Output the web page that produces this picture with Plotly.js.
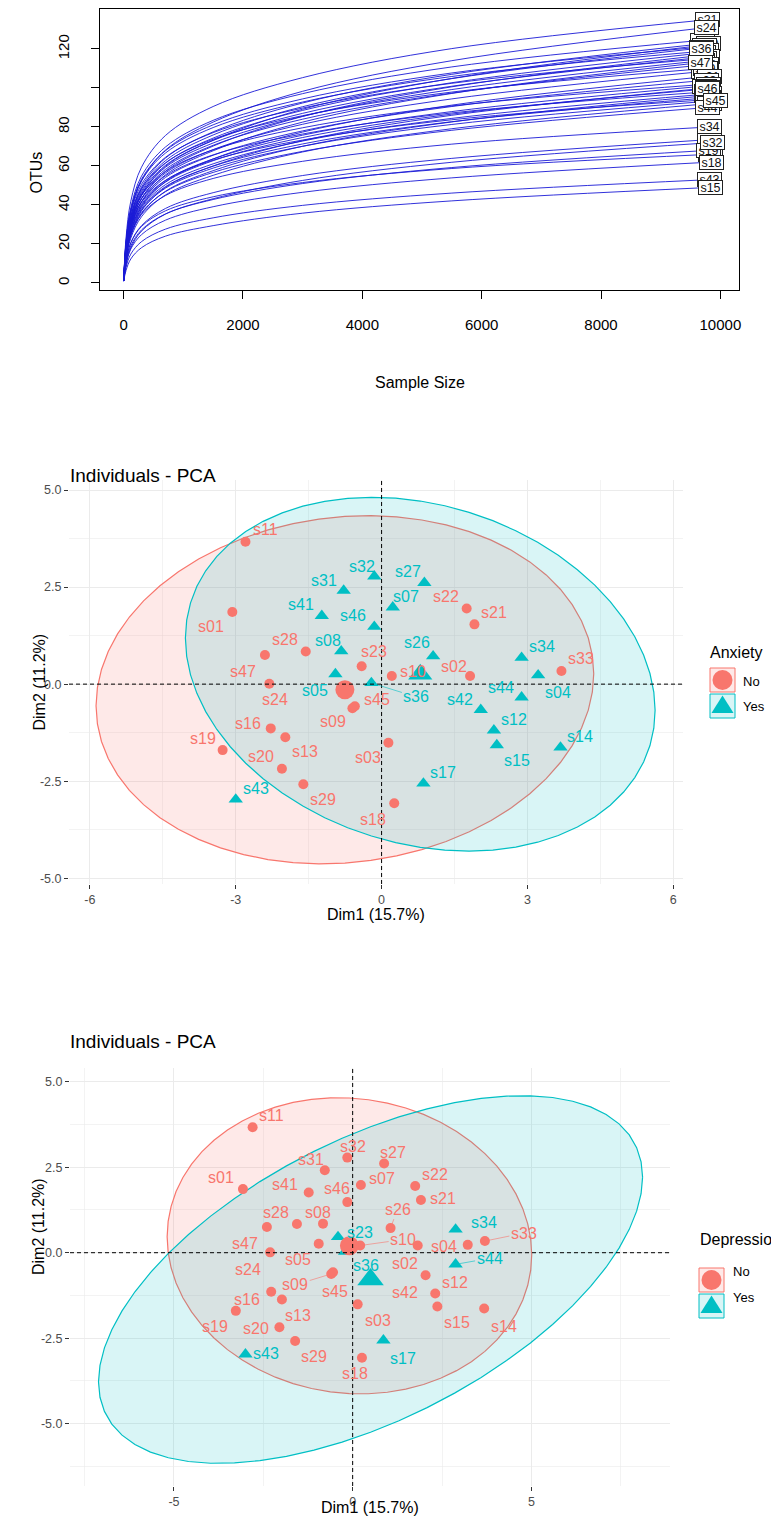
<!DOCTYPE html>
<html><head><meta charset="utf-8">
<script src="https://cdn.plot.ly/plotly-3.0.1.min.js"></script>
<style>html,body{margin:0;padding:0;background:#fff}#chart{width:771px;height:1533px}</style>
</head><body><div id="chart"></div>
<script>
// ---------------- Rarefaction curves (top panel) ----------------
const rareSamples = ['s21','s10','s22','s23','s20','s12','s02','s27','s26','s11','s05','s07','s28','s09','s01','s03','s33','s41','s16','s08','s04','s13','s29','s17','s42','s44','s31','s14','s43','s19',
                     's24','s36','s47','s46','s45','s34','s32','s18','s15'];
const rareDepthSteps = [1, 40, 120, 300, 700, 1500, 3000, 5500];
const rareEndDepth = [9780,9700,9760,9720,9800,9740,9690,9760,9710,9790,9730,9700,9770,9750,9810,9760,9800,9740,9790,9770,9820,9760,9800,9780,9820,9790,9810,9840,9820,9800,
                      9770,9680,9665,9780,9915,9815,9866,9850,9830];
const rareOTUs = [
 [1,23.0,41.9,59.4,75.6,90.5,105.3,120.2,135],
 [1,21.2,38.6,54.8,69.7,83.4,97.1,110.8,124.5],
 [1,15.2,29.3,43.3,57.3,70.2,85.4,100.6,117],
 [1,16.3,30.4,43.4,56.4,68.4,81.4,94.4,108.5],
 [1,18.5,34.4,49.2,64.0,77.5,92.3,107.0,123],
 [1,15.9,30.5,45.1,59.8,73.2,89.1,104.9,122],
 [1,20.6,37.5,53.2,67.8,81.1,94.4,107.7,121],
 [1,20.2,36.9,52.4,66.6,79.7,92.8,105.9,119],
 [1,17.7,33.0,47.2,61.4,74.3,88.5,102.7,118],
 [1,17.4,32.5,46.4,60.3,73.1,87.0,100.9,116],
 [1,19.6,35.7,50.6,64.4,77.1,89.7,102.4,115],
 [1,17.1,31.9,45.6,59.3,71.8,85.5,99.2,114],
 [1,16.8,31.4,44.8,58.2,70.6,84.0,97.4,112],
 [1,18.7,34.1,48.4,61.6,73.7,85.8,97.9,110],
 [1,13.8,26.5,39.2,51.9,63.6,77.4,91.2,106],
 [1,15.6,29.1,41.6,54.1,65.5,78.0,90.5,104],
 [1,17.3,31.6,44.9,57.1,68.3,79.6,90.8,102],
 [1,15.2,28.3,40.4,52.5,63.6,75.8,87.9,101],
 [1,13.0,25.0,37.0,49.0,60.0,73.0,86.0,100],
 [1,16.7,30.4,43.1,54.9,65.7,76.4,87.2,98],
 [1,14.6,27.2,38.8,50.4,61.1,72.8,84.4,97],
 [1,12.5,24.0,35.5,47.0,57.6,70.1,82.6,96],
 [1,14.3,26.6,38.0,49.4,59.9,71.3,82.7,95],
 [1,16.0,29.1,41.4,52.6,63.0,73.3,83.7,94],
 [1,12.0,23.0,34.0,45.1,55.2,67.2,79.1,92],
 [1,13.5,25.2,36.0,46.8,56.7,67.5,78.3,90],
 [1,11.0,20.6,29.4,38.2,46.3,55.1,63.9,73.5],
 [1,11.2,20.5,29.0,37.0,44.2,51.5,58.7,66],
 [1,8.0,14.8,21.2,27.6,33.4,39.8,46.1,53],
 [1,10.2,19.0,27.2,35.4,42.8,51.0,59.2,68],
 [1,19.7,36.7,52.4,68.1,82.5,98.3,114.0,131],
 [1,18.1,33.7,48.2,62.7,75.9,90.4,104.8,120.5],
 [1,14.7,28.3,41.8,55.4,67.8,82.5,97.2,113],
 [1,14.9,27.9,39.8,51.7,62.7,74.6,86.6,99.5],
 [1,14.0,26.2,37.4,48.6,58.9,70.1,81.3,93.5],
 [1,13.6,24.8,35.2,44.8,53.6,62.4,71.2,80],
 [1,9.4,18.0,26.6,35.3,43.2,52.6,61.9,72],
 [1,9.3,17.4,24.8,32.2,39.1,46.5,53.9,62],
 [1,6.4,12.3,18.1,24.0,29.4,35.8,42.1,49]
];
const rareXTicks = [0,2000,4000,6000,8000,10000];
const rareXTickText = ['0','2000','4000','6000','8000','10000'];
const rareYTicks = [0,20,40,60,80,100,120];
const rareYTickText = ['0','20','40','60','80','','120'];

// ---------------- PCA individuals ----------------
const pcaSamples = ['s01','s02','s03','s04','s05','s07','s08','s09','s10','s11','s12','s13','s14','s15','s16','s17','s18','s19','s20','s21',
                    's22','s23','s24','s26','s27','s28','s29','s31','s32','s33','s34','s36','s41','s42','s43','s44','s45','s46','s47'];
const dim1 = [-3.07,1.82,0.14,3.22,-0.95,0.23,-0.83,-0.60,0.21,-2.80,2.31,-1.98,3.68,2.37,-2.28,0.86,0.26,-3.27,-2.05,1.91,
              1.75,-0.41,-2.31,1.06,0.88,-1.56,-1.61,-0.78,-0.15,3.70,2.88,-0.21,-1.23,2.04,-3.00,2.88,-0.55,-0.15,-2.40];
const dim2 = [1.86,0.21,-1.51,0.23,0.26,1.98,0.85,-0.62,0.21,3.67,-1.19,-1.37,-1.63,-1.57,-1.14,-2.56,-3.07,-1.70,-2.18,1.54,
              1.95,0.46,0.01,0.72,2.61,0.84,-2.58,2.41,2.78,0.34,0.68,0.03,1.76,-0.66,-2.97,-0.34,-0.57,1.48,0.75];
const anxiety = ['No','No','No','Yes','Yes','Yes','Yes','No','No','No','Yes','No','Yes','Yes','No','Yes','No','No','No','No',
                 'No','No','No','Yes','Yes','No','No','Yes','Yes','No','Yes','Yes','Yes','Yes','Yes','Yes','No','Yes','No'];
const depression = ['No','No','No','No','No','No','No','No','No','No','No','No','No','No','No','Yes','No','No','No','No',
                    'No','Yes','No','No','No','No','No','No','No','No','Yes','Yes','No','No','Yes','Yes','No','No','No'];
const groupLevels = ['No','Yes'];
const anxXTicks = [-6,-3,0,3,6], anxXTickText = ['-6','-3','0','3','6'];
const anxYTicks = [-5,-2.5,0,2.5,5], anxYTickText = ['-5.0','-2.5','0.0','2.5','5.0'];
const depXTicks = [-5,0,5], depXTickText = ['-5','0','5'];
const depYTicks = [-5,-2.5,0,2.5,5], depYTickText = ['-5.0','-2.5','0.0','2.5','5.0'];

// ---------------- label placement (pixel offsets, style only) ----------------
const anxLabDx = [-21,-16,-20,20,-20,13,-13,-19,21,20,20,20,20,20,-23,20,-21,-20,-21,20,-21,12,6,-16,-16,-21,20,-20,-12,20,20,45,-21,-21,20,-21,22,-21,-22];
const anxLabDy = [15,-9,15,17,16,-11,-11,13,-4,-12,-11,14,-11,15,-5,-11,16,-12,-12,-12,-12,-15,16,-14,-11,-12,15,-10,-10,-12,-11,14,-11,-10,-11,-10,-7,-11,16];
const anxSeg = ['s36'];
const depLabDx = [-22,-13,20,-24,-21,21,-5,-36,43,19,20,16,20,20,-24,20,-7,-21,-23,22,20,22,-22,7,9,-21,19,-14,6,39,28,21,-24,-21,21,34,2,-10,-22];
const depLabDy = [-12,18,16,2,16,-6,-11,11,-6,-12,-11,16,18,16,8,18,16,16,1,-2,-12,-4,17,-19,-11,-11,16,-11,-11,-8,-7,14,-8,17,-1,-6,19,-14,16];
const depSeg = ['s09','s10','s33','s44','s26'];

// ---------------- helpers ----------------
const FONT = 'Liberation Sans, Arial, Helvetica, sans-serif';
const RED = '#F8766D', TEAL = '#00BFC4';
const FILLS = ['rgba(248,118,109,0.16)','rgba(0,191,196,0.15)'];
const COLS = [RED, TEAL];
const W = 771, H = 1533;
const PX = v => v / W, PY = v => 1 - v / H;

function normEllipse(xs, ys, level, segs) {
  const n = xs.length;
  const mx = xs.reduce((a,b)=>a+b,0)/n, my = ys.reduce((a,b)=>a+b,0)/n;
  let sxx=0, syy=0, sxy=0;
  for (let i=0;i<n;i++){ const dx=xs[i]-mx, dy=ys[i]-my; sxx+=dx*dx; syy+=dy*dy; sxy+=dx*dy; }
  sxx/=(n-1); syy/=(n-1); sxy/=(n-1);
  const r11=Math.sqrt(sxx), r12=sxy/r11, r22=Math.sqrt(syy-r12*r12);
  const d=n-1, q=(d/2)*(Math.pow(1-level,-2/d)-1), rad=Math.sqrt(2*q);
  const ex=[], ey=[];
  for (let i=0;i<=segs;i++){ const t=2*Math.PI*i/segs, c=Math.cos(t), s=Math.sin(t);
    ex.push(mx+rad*c*r11); ey.push(my+rad*(c*r12+s*r22)); }
  return {x:ex, y:ey, mx, my};
}

const traces = [];
const annotations = [];
const shapes = [];

// top panel traces
rareSamples.forEach((s,i)=>{
  traces.push({type:'scatter', mode:'lines', x: rareDepthSteps.concat([rareEndDepth[i]]), y: rareOTUs[i],
    line:{color:'#1a1ad6', width:0.9, shape:'spline', smoothing:1}, xaxis:'x', yaxis:'y', hoverinfo:'skip'});
});
rareSamples.forEach((s,i)=>{
  const o = rareOTUs[i];
  annotations.push({x: rareEndDepth[i], y: o[o.length-1], xref:'x', yref:'y', text:s, showarrow:false,
    bgcolor:'white', bordercolor:'#222', borderwidth:1, borderpad:0, width:23, height:13,
    font:{family:FONT, size:12.5, color:'#111'}});
});

function pcaPanel(groups, xa, ya, meanTri, labDx, labDy, segList) {
  const ells = [], pts = [], means = [];
  groupLevels.forEach((g,gi)=>{
    const idx = groups.map((v,i)=> v===g ? i : -1).filter(i=>i>=0);
    const xs = idx.map(i=>dim1[i]), ys = idx.map(i=>dim2[i]);
    const e = normEllipse(xs, ys, 0.95, 60);
    ells.push({type:'scatter', mode:'lines', x:e.x, y:e.y, fill:'toself', fillcolor:FILLS[gi],
      line:{color:COLS[gi], width:1.2}, xaxis:xa, yaxis:ya, hoverinfo:'skip'});
    pts.push({type:'scatter', mode:'markers', x:xs, y:ys, xaxis:xa, yaxis:ya, hoverinfo:'skip',
      marker:{color:COLS[gi], size: gi? 12.5 : 10, symbol: gi? 'triangle-up':'circle', line:{width:0}}});
    means.push({type:'scatter', mode:'markers', x:[e.mx], y:[e.my], xaxis:xa, yaxis:ya, hoverinfo:'skip',
      marker:{color:COLS[gi], size: gi? meanTri : 19, symbol: gi? 'triangle-up':'circle', line:{width:0}}});
  });
  traces.push(...ells, ...pts, ...means);
  const xref = xa, yref = ya;
  pcaSamples.forEach((s,i)=>{
    const col = COLS[groupLevels.indexOf(groups[i])];
    const a = {x:dim1[i], y:dim2[i], xref, yref, text:s, font:{family:FONT, size:16, color:col}};
    if (segList.includes(s)) Object.assign(a, {showarrow:true, arrowhead:0, arrowwidth:0.6, arrowcolor:col, ax:labDx[i], ay:labDy[i], standoff:4});
    else Object.assign(a, {showarrow:false, xshift:labDx[i], yshift:-labDy[i]});
    annotations.push(a);
  });
  shapes.push({type:'line', xref:xa, yref:ya+' domain', x0:0, x1:0, y0:0, y1:1, line:{color:'#000', width:1, dash:'4px,3px'}});
  shapes.push({type:'line', xref:xa+' domain', yref:ya, x0:0, x1:1, y0:0, y1:0, line:{color:'#000', width:1, dash:'4px,3px'}});
}
pcaPanel(anxiety, 'x2', 'y2', 21, anxLabDx, anxLabDy, anxSeg);
pcaPanel(depression, 'x3', 'y3', 23, depLabDx, depLabDy, depSeg);

function txt(t, x, y, size, opts) {
  annotations.push(Object.assign({text:t, x:PX(x), y:PY(y), xref:'paper', yref:'paper', showarrow:false,
    font:{family:FONT, size:size, color:'#000'}}, opts||{}));
}
txt('OTUs', 25, 150, 16, {textangle:-90});
txt('Sample Size', 420, 372, 16);
txt('Individuals - PCA', 68, 463, 19, {xanchor:'left'});
txt('Dim1 (15.7%)', 376, 914, 16);
txt('Dim2 (11.2%)', 28, 682, 16, {textangle:-90});
txt('Individuals - PCA', 68, 1054, 19, {xanchor:'left'});
txt('Dim1 (15.7%)', 370, 1518, 16);
txt('Dim2 (11.2%)', 28, 1277, 16, {textangle:-90});

function legend(title, tx, ty, kx, ky, textX) {
  txt(title, tx, ty, 16, {xanchor:'left'});
  const kw = 25, kh = 24;
  shapes.push({type:'rect', xref:'paper', yref:'paper', x0:PX(kx), x1:PX(kx+kw), y0:PY(ky), y1:PY(ky+kh),
    fillcolor:FILLS[0], line:{color:RED, width:1}});
  shapes.push({type:'circle', xref:'paper', yref:'paper', x0:PX(kx+2.5), x1:PX(kx+kw-2.5), y0:PY(ky+2), y1:PY(ky+kh-2),
    fillcolor:RED, line:{width:0}});
  txt('No', textX, ky+kh/2+1, 13, {xanchor:'left'});
  const y2 = ky + kh + 2;
  shapes.push({type:'rect', xref:'paper', yref:'paper', x0:PX(kx), x1:PX(kx+kw), y0:PY(y2), y1:PY(y2+kh),
    fillcolor:FILLS[1], line:{color:TEAL, width:1}});
  shapes.push({type:'path', xref:'paper', yref:'paper',
    path:`M ${PX(kx+1.5)} ${PY(y2+kh-5)} L ${PX(kx+kw-1.5)} ${PY(y2+kh-5)} L ${PX(kx+kw/2)} ${PY(y2+1.5)} Z`,
    fillcolor:TEAL, line:{width:0}});
  txt('Yes', textX, y2+kh/2+1, 13, {xanchor:'left'});
}
legend('Anxiety', 708, 652, 710, 668, 741);
legend('Depression', 698, 1250, 699, 1268, 731);

const axFont = {family:FONT, size:12.5, color:'#4D4D4D'};
const gridCol = '#EBEBEB';
const layout = {
  width:W, height:H, margin:{l:0,r:0,t:0,b:0}, paper_bgcolor:'#fff', plot_bgcolor:'rgba(0,0,0,0)',
  showlegend:false, font:{family:FONT},
  xaxis:{domain:[PX(100),PX(739)], anchor:'y', range:[-396,10312], tickmode:'array', tickvals:rareXTicks, ticktext:rareXTickText,
    ticks:'outside', ticklen:8, tickcolor:'#000', showline:true, mirror:true, linecolor:'#000', linewidth:1,
    showgrid:false, zeroline:false, tickfont:{family:FONT, size:15, color:'#000'}, ticklabelstandoff:13},
  yaxis:{domain:[PY(290),PY(9)], anchor:'x', range:[-3.6,140.5], tickmode:'array', tickvals:rareYTicks, ticktext:rareYTickText,
    ticks:'outside', ticklen:8, tickcolor:'#000', showline:true, mirror:true, linecolor:'#000', linewidth:1,
    showgrid:false, zeroline:false, tickangle:-90, tickfont:{family:FONT, size:15, color:'#000'}, ticklabelstandoff:16},
  xaxis2:{domain:[PX(69),PX(683)], anchor:'y2', range:[-6.43,6.20], tickmode:'array', tickvals:anxXTicks, ticktext:anxXTickText,
    ticks:'outside', ticklen:4, tickcolor:'#333', showline:false, zeroline:false, showgrid:true, gridcolor:gridCol, gridwidth:1,
    minor:{tickmode:'array', tickvals:[-4.5,-1.5,1.5,4.5], showgrid:true, gridcolor:gridCol, gridwidth:0.6, ticks:''}, tickfont:axFont},
  yaxis2:{domain:[PY(884),PY(480)], anchor:'x2', range:[-5.15,5.26], tickmode:'array', tickvals:anxYTicks, ticktext:anxYTickText,
    ticks:'outside', ticklen:4, tickcolor:'#333', showline:false, zeroline:false, showgrid:true, gridcolor:gridCol, gridwidth:1,
    minor:{tickmode:'array', tickvals:[-3.75,-1.25,1.25,3.75], showgrid:true, gridcolor:gridCol, gridwidth:0.6, ticks:''}, tickfont:axFont},
  xaxis3:{domain:[PX(70),PX(670)], anchor:'y3', range:[-7.91,8.88], tickmode:'array', tickvals:depXTicks, ticktext:depXTickText,
    ticks:'outside', ticklen:4, tickcolor:'#333', showline:false, zeroline:false, showgrid:true, gridcolor:gridCol, gridwidth:1,
    minor:{tickmode:'array', tickvals:[-7.5,-2.5,2.5,7.5], showgrid:true, gridcolor:gridCol, gridwidth:0.6, ticks:''}, tickfont:axFont, ticklabelstandoff:0},
  yaxis3:{domain:[PY(1486),PY(1068)], anchor:'x3', range:[-6.82,5.40], tickmode:'array', tickvals:depYTicks, ticktext:depYTickText,
    ticks:'outside', ticklen:4, tickcolor:'#333', showline:false, zeroline:false, showgrid:true, gridcolor:gridCol, gridwidth:1,
    minor:{tickmode:'array', tickvals:[-6.25,-3.75,-1.25,1.25,3.75], showgrid:true, gridcolor:gridCol, gridwidth:0.6, ticks:''}, tickfont:axFont},
  annotations, shapes
};
Plotly.newPlot('chart', traces, layout, {staticPlot:true, displayModeBar:false});
</script></body></html>
